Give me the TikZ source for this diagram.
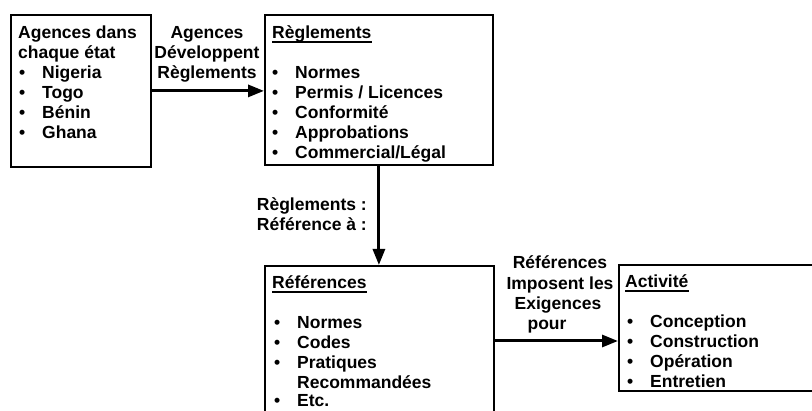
\documentclass[tikz,border=0pt]{standalone}
\usepackage{fontspec}
\setmainfont{Liberation Sans}
\usetikzlibrary{arrows.meta}
\begin{document}
\begin{tikzpicture}[x=1pt,y=-1pt,
  box/.style={draw=black,line width=1.8pt,rectangle,inner sep=0pt,anchor=north west},
  txt/.style={inner sep=0pt,anchor=base west,font=\fontsize{17.5}{20}\selectfont\bfseries},
  lbl/.style={inner sep=0pt,anchor=base,font=\fontsize{17.5}{20}\selectfont\bfseries},
  rlbl/.style={inner sep=0pt,anchor=base east,font=\fontsize{17.5}{20}\selectfont\bfseries},
  link/.style={line width=3pt,-{Triangle[length=16pt,width=12pt]}},
  uline/.style={line width=1.4pt}]
\path[use as bounding box] (0,0) rectangle (812,411);
\clip (0,0) rectangle (812,411);

% boxes
\node[box,minimum width=140pt,minimum height=152pt] (b1) at (10,14) {};
\node[box,minimum width=228pt,minimum height=150pt] (b2) at (264,14) {};
\node[box,minimum width=229pt,minimum height=200pt] (b3) at (264,265) {};
\node[box,minimum width=250pt,minimum height=126pt] (b4) at (618,264) {};

% box 1: agencies
\node[txt] (h1a) at (18,39) {Agences dans};
\node[txt] (h1b) at (18,59) {chaque état};
\foreach \t [count=\i] in {Nigeria,Togo,Bénin,Ghana}{
  \node[txt] (d1-\i) at (19,59+20*\i) {•};
  \node[txt] (i1-\i) at (42,59+20*\i) {\t};
}

% box 2: regulations
\node[txt] (h2) at (272,39) {Règlements};
\draw[uline] ([yshift=-3pt]h2.base west) -- ([yshift=-3pt]h2.base east);
\foreach \t [count=\i] in {Normes,Permis / Licences,Conformité,Approbations,Commercial/Légal}{
  \node[txt] (d2-\i) at (272,59+20*\i) {•};
  \node[txt] (i2-\i) at (295,59+20*\i) {\t};
}

% box 3: references
\node[txt] (h3) at (272,289) {Références};
\draw[uline] ([yshift=-3pt]h3.base west) -- ([yshift=-3pt]h3.base east);
\node[txt] (d3-1) at (274,329) {•};
\node[txt] (i3-1) at (297,329) {Normes};
\node[txt] (d3-2) at (274,349) {•};
\node[txt] (i3-2) at (297,349) {Codes};
\node[txt] (d3-3) at (274,369) {•};
\node[txt] (i3-3) at (297,369) {Pratiques};
\node[txt] (i3-4) at (297,389) {Recommandées};
\node[txt] (d3-5) at (274,407) {•};
\node[txt] (i3-5) at (297,407) {Etc.};

% box 4: activity
\node[txt] (h4) at (625,288) {Activité};
\draw[uline] ([yshift=-3pt]h4.base west) -- ([yshift=-3pt]h4.base east);
\foreach \t [count=\i] in {Conception,Construction,Opération,Entretien}{
  \node[txt] (d4-\i) at (627,308+20*\i) {•};
  \node[txt] (i4-\i) at (650,308+20*\i) {\t};
}

% connector labels
\node[lbl] (l1a) at (207,39) {Agences};
\node[lbl] (l1b) at (207,59) {Développent};
\node[lbl] (l1c) at (207,79) {Règlements};
\node[rlbl] (l2a) at (367,211) {Règlements :};
\node[rlbl] (l2b) at (367,231) {Référence à :};
\node[lbl] (l3a) at (560,269) {Références};
\node[lbl] (l3b) at (560,290) {Imposent les};
\node[lbl] (l3c) at (558,310) {Exigences};
\node[lbl] (l3d) at (547,330) {pour};

% connectors
\draw[link] (b1.east) -- (b1.east -| b2.west);
\draw[link] (b2.south) -- (b2.south |- b3.north);
\coordinate (a3) at (493,341);
\draw[link] (a3) -- (a3 -| b4.west);
\end{tikzpicture}
\end{document}
